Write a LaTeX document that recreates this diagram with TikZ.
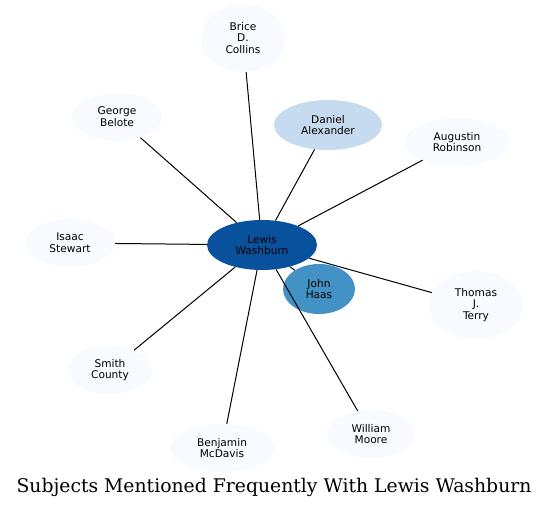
\documentclass[tikz,border=0pt]{standalone}
\usepackage{fontspec}
\setmainfont{DejaVu Serif}
\newfontfamily\labelfont{DejaVu Sans}
\usetikzlibrary{shapes.geometric}
\definecolor{blueA}{HTML}{F7FBFF}
\definecolor{blueB}{HTML}{C6DBEF}
\definecolor{blueC}{HTML}{4292C6}
\definecolor{blueD}{HTML}{08519C}

\begin{document}
\begin{tikzpicture}[x=1pt,y=-1pt,
    subj/.style={ellipse,inner sep=0pt,fill=blueA,align=center,
      font=\labelfont\fontsize{10.6}{11.8}\selectfont},
    link/.style={draw=black,line width=1pt}]
    \useasboundingbox[fill=white] (0,0) rectangle (548,509);
    \node[subj,minimum width=84,minimum height=68] (collins) at (243,38) {Brice\\D.\\Collins};
    \node[subj,minimum width=90,minimum height=48] (belote) at (117,117) {George\\Belote};
    \node[subj,fill=blueB,minimum width=108,minimum height=50] (alexander) at (328,125) {Daniel\\Alexander};
    \node[subj,minimum width=104,minimum height=48] (robinson) at (457,142) {Augustin\\Robinson};
    \node[subj,minimum width=90,minimum height=48] (stewart) at (70,243) {Isaac\\Stewart};
    \node[subj,fill=blueD,minimum width=110,minimum height=50] (washburn) at (262,245) {Lewis\\Washburn};
    \node[subj,fill=blueC,minimum width=72,minimum height=50] (haas) at (319,289) {John\\Haas};
    \node[subj,minimum width=94,minimum height=68] (terry) at (476,305) {Thomas\\J.\\Terry};
    \node[subj,minimum width=84,minimum height=48] (smith) at (110,370) {Smith\\County};
    \node[subj,minimum width=104,minimum height=48] (mcdavis) at (222,448) {Benjamin\\McDavis};
    \node[subj,minimum width=88,minimum height=48] (moore) at (371,434) {William\\Moore};
    \draw[link] (washburn) -- (collins);
    \draw[link] (washburn) -- (belote);
    \draw[link] (washburn) -- (alexander);
    \draw[link] (washburn) -- (robinson);
    \draw[link] (washburn) -- (stewart);
    \draw[link] (washburn) -- (haas);
    \draw[link] (washburn) -- (terry);
    \draw[link] (washburn) -- (smith);
    \draw[link] (washburn) -- (mcdavis);
    \draw[link] (washburn) -- (moore);
    \node[font=\fontsize{18.8}{22}\selectfont] (title) at (274,487) {Subjects Mentioned Frequently With Lewis Washburn};
\end{tikzpicture}
\end{document}
